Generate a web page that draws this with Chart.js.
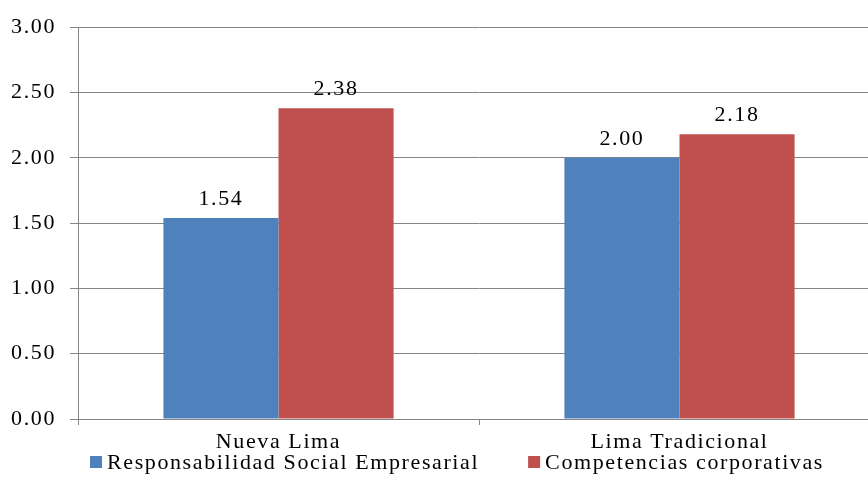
<!DOCTYPE html>
<html>
<head>
<meta charset="utf-8">
<script src="https://cdn.jsdelivr.net/npm/chart.js@4"></script>
<style>
    html, body { margin: 0; padding: 0; background: #fff; overflow: hidden; }
    #wrap { width: 912px; height: 500px; }
</style>
</head>
<body>
<div id="wrap"><canvas id="barChart"></canvas></div>
<script>
// datos del grafico
const categories = ['Nueva Lima', 'Lima Tradicional'];
const rseValues = [1.54, 2.00];
const competenciasValues = [2.38, 2.18];
const seriesNames = ['Responsabilidad Social Empresarial', 'Competencias corporativas'];
const seriesColors = ['#4F81BD', '#C0504D'];
const yTicks = [0, 0.5, 1, 1.5, 2, 2.5, 3];

const gridColor = '#868686';
const fontFamily = '"Liberation Serif", "Times New Roman", serif';
const fontSize = 22;
const spacing = '1.6px';

// espaciado de letras como en el original
const letterSpacingPlugin = {
    id: 'letterSpacing',
    beforeUpdate: (chart) => { chart.ctx.letterSpacing = spacing; },
    beforeLayout: (chart) => { chart.ctx.letterSpacing = spacing; },
    beforeDraw: (chart) => { chart.ctx.letterSpacing = spacing; }
};

// etiquetas de valor encima de cada barra
const valueLabels = {
    id: 'valueLabels',
    afterDatasetsDraw: (chart) => {
        const ctx = chart.ctx;
        ctx.save();
        ctx.letterSpacing = spacing;
        ctx.font = fontSize + 'px ' + fontFamily;
        ctx.fillStyle = '#000';
        ctx.textAlign = 'center';
        ctx.textBaseline = 'alphabetic';
        chart.data.datasets.forEach((ds, i) => {
            chart.getDatasetMeta(i).data.forEach((bar, j) => {
                ctx.fillText(ds.data[j].toFixed(2), bar.x, bar.y - 13);
            });
        });
        ctx.restore();
    }
};

// leyenda abajo, centrada, con poco espacio entre cuadro y texto
const bottomLegend = {
    id: 'bottomLegend',
    afterDraw: (chart) => {
        const ctx = chart.ctx;
        const box = 12, boxGap = 5, itemGap = 49;
        const y = chart.chartArea.bottom + 43;
        ctx.save();
        ctx.letterSpacing = spacing;
        ctx.font = fontSize + 'px ' + fontFamily;
        ctx.textBaseline = 'middle';
        ctx.textAlign = 'left';
        const widths = chart.data.datasets.map(ds => ctx.measureText(ds.label).width);
        let total = 0;
        widths.forEach((w, i) => { total += box + boxGap + w + (i > 0 ? itemGap : 0); });
        let x = chart.width / 2 - total / 2 + 1;
        chart.data.datasets.forEach((ds, i) => {
            ctx.fillStyle = ds.backgroundColor;
            ctx.fillRect(x, y - box / 2, box, box);
            ctx.fillStyle = '#000';
            ctx.fillText(ds.label, x + box + boxGap, y + 1);
            x += box + boxGap + widths[i] + itemGap;
        });
        ctx.restore();
    }
};

const ctxBar = document.getElementById('barChart').getContext('2d');

new Chart(ctxBar, {
    type: 'bar',
    data: {
        labels: categories,
        datasets: [{
            label: seriesNames[0],
            data: rseValues,
            backgroundColor: seriesColors[0]
        }, {
            label: seriesNames[1],
            data: competenciasValues,
            backgroundColor: seriesColors[1]
        }]
    },
    options: {
        responsive: true,
        maintainAspectRatio: false,
        animation: false,
        categoryPercentage: 0.574,
        barPercentage: 1,
        layout: {
            padding: { top: 26, right: 32, left: 0, bottom: 40.6 }
        },
        scales: {
            x: {
                grid: {
                    offset: true,
                    drawOnChartArea: false,
                    drawTicks: true,
                    tickLength: 6,
                    color: gridColor
                },
                border: { color: gridColor },
                ticks: {
                    color: '#000',
                    padding: 4,
                    font: { family: fontFamily, size: fontSize }
                }
            },
            y: {
                min: 0,
                max: 3,
                afterFit: (scale) => { scale.width = 78; },
                afterBuildTicks: (scale) => {
                    scale.ticks = yTicks.map(v => ({ value: v }));
                },
                grid: {
                    color: gridColor,
                    tickLength: 8
                },
                border: { color: gridColor },
                ticks: {
                    color: '#000',
                    padding: 14,
                    font: { family: fontFamily, size: fontSize },
                    callback: (value) => Number(value).toFixed(2)
                }
            }
        },
        plugins: {
            legend: { display: false },
            tooltip: { enabled: false }
        }
    },
    plugins: [letterSpacingPlugin, valueLabels, bottomLegend]
});
</script>
</body>
</html>
